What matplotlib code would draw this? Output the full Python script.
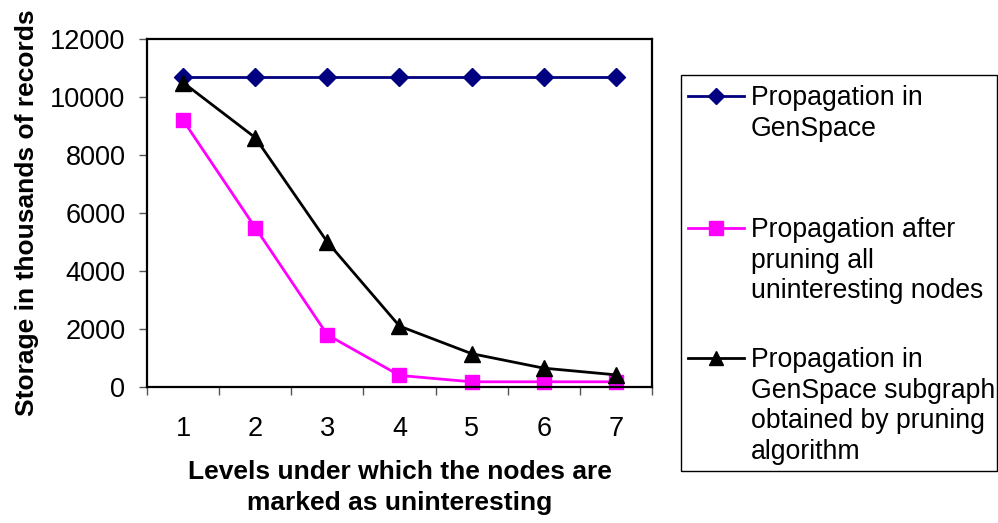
import matplotlib.pyplot as plt
from matplotlib.lines import Line2D
from matplotlib.patches import Rectangle

plt.rcParams['font.family'] = ['Liberation Sans', 'DejaVu Sans']

levels = [1, 2, 3, 4, 5, 6, 7]
genspace = [10700, 10700, 10700, 10700, 10700, 10700, 10700]
pruned_all = [9200, 5500, 1800, 400, 180, 180, 180]
pruned_subgraph = [10500, 8600, 5000, 2100, 1150, 650, 420]

legend_lines = [
    ["Propagation in", "GenSpace"],
    ["Propagation after", "pruning all", "uninteresting nodes"],
    ["Propagation in", "GenSpace subgraph", "obtained by pruning", "algorithm"],
]
styles = [
    dict(color='#000080', marker='D', ms=9),
    dict(color='#FF00FF', marker='s', ms=10),
    dict(color='black', marker='^', ms=11),
]

fig = plt.figure(figsize=(9.98, 5.23), dpi=100)
ax = fig.add_axes([0.1473, 0.26, 0.506, 0.6654])

for vals, st in zip([genspace, pruned_all, pruned_subgraph], styles):
    ax.plot(levels, vals, lw=2, clip_on=False, **st)

ax.set_xlim(0.5, 7.5)
ax.set_ylim(0, 12000)
ax.set_yticks(range(0, 12001, 2000))
ax.tick_params(axis='y', labelsize=19.5, length=6, width=1, color='#555555', pad=9.5)

# category boundaries carry the tick marks, centres carry the labels
ax.set_xticks([x + 0.5 for x in range(0, 8)])
ax.set_xticklabels([])
ax.set_xticks(levels, minor=True)
ax.set_xticklabels([str(v) for v in levels], minor=True)
ax.tick_params(axis='x', which='major', length=6, width=1, color='#555555')
ax.tick_params(axis='x', which='minor', length=0, labelsize=19.5, pad=21)

for sp in ax.spines.values():
    sp.set_linewidth(1.6)
    sp.set_color('black')

ax.set_ylabel("Storage in thousands of records", fontsize=19, fontweight='bold', labelpad=8)
ax.set_xlabel("Levels under which the nodes are\nmarked as uninteresting", fontsize=19,
              fontweight='bold', labelpad=13, linespacing=1.33)

# legend box drawn in pixel coordinates of the figure
W, H = 998, 523
fig.patches.append(Rectangle((681 / W, 1 - 471 / H), 316 / W, 396 / H,
                             transform=fig.transFigure, fill=False, ec='black', lw=1))
first_baselines = [105, 237, 367]
pitch = 30.7
for lines, st, base in zip(legend_lines, styles, first_baselines):
    yc = 1 - (base - 9) / H
    fig.add_artist(Line2D([688 / W, 744 / W], [yc, yc], lw=2, color=st['color']))
    fig.add_artist(Line2D([716 / W], [yc], color=st['color'], marker=st['marker'],
                          ms=st['ms'] * 0.95, lw=0))
    for i, txt in enumerate(lines):
        fig.text(751 / W, 1 - (base + i * pitch) / H, txt, fontsize=19.2, va='baseline')

fig.savefig("out.png", dpi=100)
